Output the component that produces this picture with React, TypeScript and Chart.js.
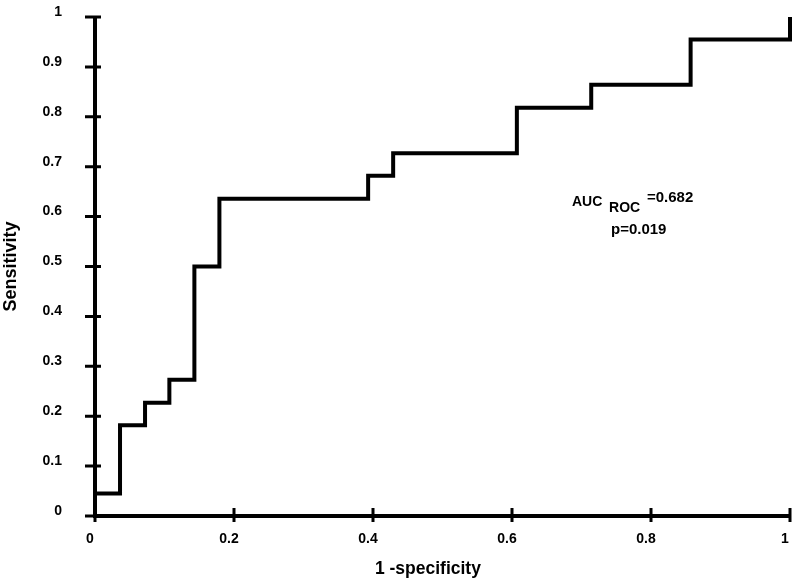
import React, { useEffect, useRef } from "react";
import { Chart, registerables } from "chart.js";

Chart.register(...registerables);

// ROC curve corner points (1 - specificity, sensitivity)
const fpr = [0, 0, 0.036, 0.072, 0.107, 0.143, 0.179, 0.393, 0.429, 0.607, 0.714, 0.857, 1];
const tpr = [0, 0.045, 0.182, 0.227, 0.273, 0.5, 0.636, 0.682, 0.727, 0.818, 0.864, 0.955, 1];

const xTickValues = [0, 0.2, 0.4, 0.6, 0.8, 1];
const xTickLabels = ["0", "0.2", "0.4", "0.6", "0.8", "1"];
const yTickValues = [0, 0.1, 0.2, 0.3, 0.4, 0.5, 0.6, 0.7, 0.8, 0.9, 1];
const yTickLabels = ["0", "0.1", "0.2", "0.3", "0.4", "0.5", "0.6", "0.7", "0.8", "0.9", "1"];

const xTitle = "1 -specificity";
const yTitle = "Sensitivity";
const aucMain = "AUC";
const aucSub = "ROC";
const aucValue = "=0.682";
const pText = "p=0.019";

const FONT = "'Liberation Sans', Arial, Helvetica, sans-serif";

const axesPlugin = {
  id: "rocAxes",
  afterDraw(chart: any) {
    const { ctx, chartArea: a, scales } = chart;
    const x = scales.x;
    const y = scales.y;
    ctx.save();
    ctx.strokeStyle = "#000";
    ctx.lineCap = "butt";
    ctx.lineWidth = 4;
    ctx.beginPath();
    ctx.moveTo(a.left, a.top);
    ctx.lineTo(a.left, a.bottom + 2);
    ctx.moveTo(a.left - 2, a.bottom);
    ctx.lineTo(a.right, a.bottom);
    ctx.stroke();

    ctx.lineWidth = 3;
    ctx.beginPath();
    yTickValues.forEach((v) => {
      const py = y.getPixelForValue(v);
      ctx.moveTo(a.left - 10, py);
      ctx.lineTo(a.left + 6, py);
    });
    xTickValues.forEach((v) => {
      const px = x.getPixelForValue(v);
      ctx.moveTo(px, a.bottom - 8);
      ctx.lineTo(px, a.bottom + 6);
    });
    ctx.stroke();

    ctx.fillStyle = "#000";
    ctx.textBaseline = "alphabetic";
    // x-axis title
    ctx.textAlign = "center";
    ctx.font = `bold 17.5px ${FONT}`;
    ctx.fillText(xTitle, x.getPixelForValue(0.479), a.bottom + 58);

    // AUC annotation
    ctx.textAlign = "left";
    ctx.font = `bold 14px ${FONT}`;
    ctx.fillText(aucMain, x.getPixelForValue(0.6863), y.getPixelForValue(0.621));
    ctx.fillText(aucSub, x.getPixelForValue(0.7396), y.getPixelForValue(0.61));
    ctx.font = `bold 15px ${FONT}`;
    ctx.fillText(aucValue, x.getPixelForValue(0.7942), y.getPixelForValue(0.63));
    ctx.fillText(pText, x.getPixelForValue(0.7424), y.getPixelForValue(0.566));
    ctx.restore();
  },
};

const zeroPadding = (s: any) => {
  s.paddingTop = 0;
  s.paddingBottom = 0;
  s.paddingLeft = 0;
  s.paddingRight = 0;
};

export default function App() {
  const ref = useRef<HTMLCanvasElement | null>(null);

  useEffect(() => {
    if (!ref.current) return;
    const chart = new Chart(ref.current, {
      type: "line",
      data: {
        datasets: [
          {
            data: fpr.map((v, i) => ({ x: v, y: tpr[i] })),
            borderColor: "#000",
            borderWidth: 4,
            pointRadius: 0,
            stepped: "before",
            fill: false,
            clip: false as any,
          },
        ],
      },
      options: {
        responsive: false,
        animation: false,
        layout: { padding: { left: 0, right: 8, top: 17, bottom: 0 } },
        plugins: { legend: { display: false }, tooltip: { enabled: false } },
        scales: {
          x: {
            type: "linear",
            min: 0,
            max: 1,
            grid: { display: false },
            border: { display: false },
            afterBuildTicks: (s: any) => {
              s.ticks = xTickValues.map((v) => ({ value: v }));
            },
            afterFit: (s: any) => {
              s.height = 68;
              zeroPadding(s);
            },
            ticks: {
              callback: (_v: any, i: number) => xTickLabels[i],
              color: "#000",
              font: { family: FONT, size: 14, weight: "bold" },
              padding: 7,
              labelOffset: -5,
              maxRotation: 0,
              autoSkip: false,
            },
          },
          y: {
            type: "linear",
            min: 0,
            max: 1,
            grid: { display: false },
            border: { display: false },
            afterBuildTicks: (s: any) => {
              s.ticks = yTickValues.map((v) => ({ value: v }));
            },
            afterFit: (s: any) => {
              s.width = 95;
              zeroPadding(s);
            },
            title: {
              display: true,
              text: yTitle,
              color: "#000",
              font: { family: FONT, size: 18, weight: "bold" },
              padding: { top: 0, bottom: 0 },
            },
            ticks: {
              callback: (_v: any, i: number) => yTickLabels[i],
              color: "#000",
              font: { family: FONT, size: 14, weight: "bold" },
              padding: 25,
              labelOffset: -5,
              autoSkip: false,
            },
          },
        },
      },
      plugins: [axesPlugin],
    });
    return () => chart.destroy();
  }, []);

  return (
    <div style={{ position: "absolute", left: 0, top: 0, width: 798, height: 584, background: "#fff" }}>
      <canvas ref={ref} width={798} height={584} style={{ display: "block" }} />
    </div>
  );
}
